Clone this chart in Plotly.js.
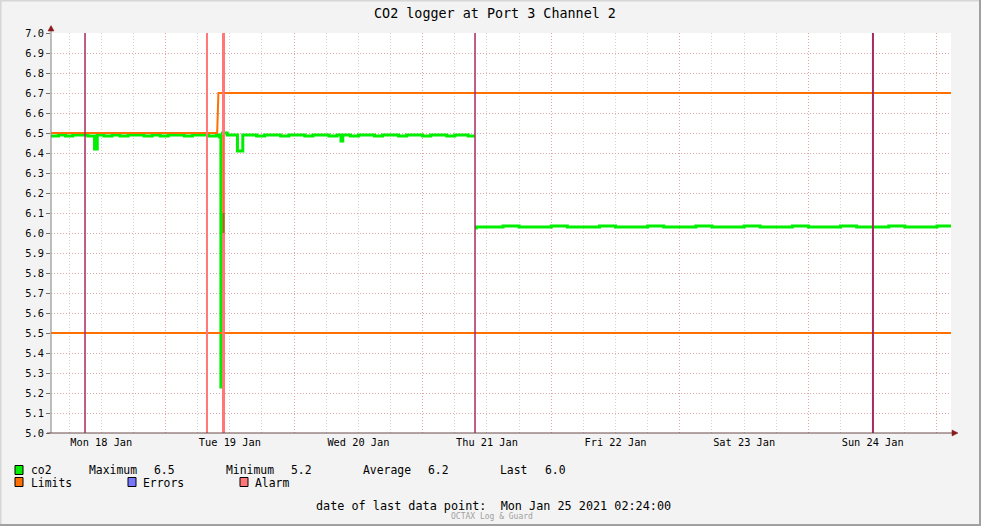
<!DOCTYPE html>
<html>
<head>
<meta charset="utf-8">
<script src="https://cdn.plot.ly/plotly-3.0.1.min.js"></script>
<style>html,body{margin:0;padding:0;background:#f3f3f3;}#chart{width:981px;height:526px;}</style>
</head>
<body>
<div id="chart"></div>
<script>
// ---------------- data ----------------
const xRange = ['2021-01-18 02:37', '2021-01-25 02:37'];

const dayTickVals = ['2021-01-18 12:00','2021-01-19 12:00','2021-01-20 12:00','2021-01-21 12:00','2021-01-22 12:00','2021-01-23 12:00','2021-01-24 12:00'];
const dayTickText = ['Mon 18 Jan','Tue 19 Jan','Wed 20 Jan','Thu 21 Jan','Fri 22 Jan','Sat 23 Jan','Sun 24 Jan'];

const co2Time = [
  '2021-01-18 02:37','2021-01-18 04:00','2021-01-18 05:20','2021-01-18 06:40','2021-01-18 08:00','2021-01-18 09:30',
  '2021-01-18 10:45','2021-01-18 11:15','2021-01-18 12:30','2021-01-18 14:00','2021-01-18 15:30','2021-01-18 17:00',
  '2021-01-18 18:30','2021-01-18 20:00','2021-01-18 21:30','2021-01-18 23:00','2021-01-19 00:30','2021-01-19 02:00',
  '2021-01-19 03:30','2021-01-19 05:00','2021-01-19 06:30','2021-01-19 08:00','2021-01-19 09:30','2021-01-19 10:05',
  '2021-01-19 10:20','2021-01-19 10:38','2021-01-19 11:30','2021-01-19 12:30','2021-01-19 13:25','2021-01-19 14:25',
  '2021-01-19 15:30','2021-01-19 17:00','2021-01-19 18:30','2021-01-19 20:00','2021-01-19 21:30','2021-01-19 23:00',
  '2021-01-20 00:30','2021-01-20 02:00','2021-01-20 03:30','2021-01-20 05:00','2021-01-20 06:30','2021-01-20 08:00',
  '2021-01-20 08:45','2021-01-20 09:05','2021-01-20 10:30','2021-01-20 12:00','2021-01-20 13:30','2021-01-20 15:00',
  '2021-01-20 16:30','2021-01-20 18:00','2021-01-20 19:30','2021-01-20 21:00','2021-01-20 22:30','2021-01-21 00:00',
  '2021-01-21 01:30','2021-01-21 03:00','2021-01-21 04:30','2021-01-21 06:00','2021-01-21 07:30','2021-01-21 08:30',
  '2021-01-21 09:44','2021-01-21 09:45',
  '2021-01-21 09:46','2021-01-21 10:00','2021-01-21 12:00','2021-01-21 15:00','2021-01-21 18:00','2021-01-21 21:00',
  '2021-01-22 00:00','2021-01-22 03:00','2021-01-22 06:00','2021-01-22 09:00','2021-01-22 12:00','2021-01-22 15:00',
  '2021-01-22 18:00','2021-01-22 21:00','2021-01-23 00:00','2021-01-23 03:00','2021-01-23 06:00','2021-01-23 09:00',
  '2021-01-23 12:00','2021-01-23 15:00','2021-01-23 18:00','2021-01-23 21:00','2021-01-24 00:00','2021-01-24 03:00',
  '2021-01-24 06:00','2021-01-24 09:00','2021-01-24 12:00','2021-01-24 15:00','2021-01-24 18:00','2021-01-24 21:00',
  '2021-01-25 00:00','2021-01-25 02:37'
];
const co2Value = [
  6.485,6.49,6.485,6.49,6.49,6.485,
  6.42,6.49,6.485,6.49,6.485,6.49,
  6.49,6.485,6.49,6.485,6.49,6.49,
  6.485,6.49,6.49,6.485,6.49,6.48,
  5.23,6.5,6.49,6.49,6.41,6.49,
  6.49,6.485,6.49,6.49,6.485,6.49,
  6.49,6.485,6.49,6.49,6.485,6.49,
  6.46,6.49,6.485,6.49,6.49,6.485,
  6.49,6.49,6.485,6.49,6.49,6.485,
  6.49,6.49,6.485,6.49,6.49,6.485,
  6.485,null,
  6.025,6.03,6.03,6.035,6.03,6.03,
  6.035,6.03,6.03,6.035,6.03,6.03,
  6.035,6.03,6.03,6.035,6.03,6.03,
  6.035,6.03,6.03,6.035,6.03,6.03,
  6.035,6.03,6.03,6.035,6.03,6.03,
  6.035,6.03
];

const upperLimitTime = ['2021-01-18 02:37','2021-01-19 09:38','2021-01-19 09:52','2021-01-25 02:37'];
const upperLimitValue = [6.5, 6.5, 6.7, 6.7];
const lowerLimitTime = ['2021-01-18 02:37','2021-01-25 02:37'];
const lowerLimitValue = [5.5, 5.5];

const spikeTime = ['2021-01-19 10:49','2021-01-19 10:49'];
const spikeValue = [6.49, 6.1];
const spikeLowTime = ['2021-01-19 10:49','2021-01-19 10:49'];
const spikeLowValue = [6.1, 6.0];

const alarmTime = ['2021-01-19 07:44','2021-01-19 10:49'];
const eventTime = ['2021-01-18 08:58','2021-01-21 09:46','2021-01-24 12:03'];

const legendStats = {max: '6.5', min: '5.2', avg: '6.2', last: '6.0'};
const lastDataPoint = 'Mon Jan 25 2021 02:24:00';

// ---------------- layout helpers ----------------
const PL = 51, PR = 951, PT = 33, PB = 433;
const px = x => (x - PL) / (PR - PL);
const py = y => (PB - y) / (PB - PT);
const FONT = 'DejaVu Sans Mono, monospace';

const traces = [];
traces.push({x: co2Time, y: co2Value, type: 'scatter', mode: 'lines', connectgaps: false, line: {color: '#00ee00', width: 3, shape: 'hv'}, xaxis: 'x', yaxis: 'y', hoverinfo: 'skip'});
traces.push({x: upperLimitTime, y: upperLimitValue, type: 'scatter', mode: 'lines', line: {color: '#ff7000', width: 2}, xaxis: 'x', yaxis: 'y', hoverinfo: 'skip'});
traces.push({x: lowerLimitTime, y: lowerLimitValue, type: 'scatter', mode: 'lines', line: {color: '#ff7000', width: 2}, xaxis: 'x', yaxis: 'y', hoverinfo: 'skip'});

const eventWidths = [1.5, 1.5, 2];
eventTime.forEach((t, i) => {
  traces.push({x: [t, t], y: [5, 7], type: 'scatter', mode: 'lines', line: {color: '#a82a60', width: eventWidths[i]}, xaxis: 'x2', yaxis: 'y', hoverinfo: 'skip'});
});
const alarmWidths = [2, 3];
alarmTime.forEach((t, i) => {
  traces.push({x: [t, t], y: [5, 7], type: 'scatter', mode: 'lines', line: {color: '#ff7777', width: alarmWidths[i]}, xaxis: 'x2', yaxis: 'y', hoverinfo: 'skip'});
});
traces.push({x: spikeTime, y: spikeValue, type: 'scatter', mode: 'lines', line: {color: '#ff7000', width: 1}, xaxis: 'x2', yaxis: 'y', hoverinfo: 'skip'});
traces.push({x: spikeLowTime, y: spikeLowValue, type: 'scatter', mode: 'lines', line: {color: '#808000', width: 2}, xaxis: 'x2', yaxis: 'y', hoverinfo: 'skip'});

const annotations = [];
function txt(x, y, s, size, color) {
  annotations.push({xref: 'paper', yref: 'paper', x: px(x), y: py(y), text: s, showarrow: false,
    xanchor: 'left', yanchor: 'middle', borderpad: 0,
    font: {family: FONT, size: size || 11.4, color: color || '#000'}});
}
const ROW1 = 469.5, ROW2 = 482.5;
txt(30, ROW1, 'co2');
txt(88, ROW1, 'Maximum');
txt(153, ROW1, legendStats.max);
txt(225, ROW1, 'Minimum');
txt(290, ROW1, legendStats.min);
txt(362, ROW1, 'Average');
txt(427, ROW1, legendStats.avg);
txt(499, ROW1, 'Last');
txt(544, ROW1, legendStats.last);
txt(30, ROW2, 'Limits');
txt(142, ROW2, 'Errors');
txt(254, ROW2, 'Alarm');
txt(315, 506, 'date of last data point:  ' + lastDataPoint, 11.8);
txt(450, 516, 'OCTAX Log &amp; Guard', 8, '#a0a0a0');

const shapes = [];
function swatch(x, y, color) {
  shapes.push({type: 'rect', xref: 'paper', yref: 'paper', x0: px(x), x1: px(x + 8), y0: py(y + 4.5), y1: py(y - 4.5),
    fillcolor: color, line: {color: '#000', width: 1}, layer: 'above'});
}
swatch(15, 470, '#00ee00');
swatch(15, 482, '#ff7000');
swatch(128, 482, '#7777ff');
swatch(240, 482, '#ff7777');

// axis lines
shapes.push({type: 'line', xref: 'paper', yref: 'paper', x0: px(51), x1: px(51), y0: py(433), y1: py(30), line: {color: '#808080', width: 1}, layer: 'above'});
shapes.push({type: 'line', xref: 'paper', yref: 'paper', x0: px(47), x1: px(953), y0: py(433), y1: py(433), line: {color: '#6a4a4a', width: 1}, layer: 'above'});
// arrows
shapes.push({type: 'path', xref: 'paper', yref: 'paper', path: `M ${px(48)} ${py(31)} L ${px(54)} ${py(31)} L ${px(51)} ${py(25.5)} Z`, fillcolor: '#8b1a1a', line: {color: '#8b1a1a', width: 0.5}, layer: 'above'});
shapes.push({type: 'path', xref: 'paper', yref: 'paper', path: `M ${px(952)} ${py(430)} L ${px(952)} ${py(436)} L ${px(958)} ${py(433)} Z`, fillcolor: '#8b1a1a', line: {color: '#8b1a1a', width: 0.5}, layer: 'above'});
// frame border
shapes.push({type: 'line', xref: 'paper', yref: 'paper', x0: px(0.5), x1: px(0.5), y0: py(0), y1: py(526), line: {color: '#d6d6d6', width: 2}, layer: 'below'});
shapes.push({type: 'line', xref: 'paper', yref: 'paper', x0: px(0), x1: px(981), y0: py(0.5), y1: py(0.5), line: {color: '#d6d6d6', width: 2}, layer: 'below'});
shapes.push({type: 'line', xref: 'paper', yref: 'paper', x0: px(980), x1: px(980), y0: py(0), y1: py(526), line: {color: '#a0a0a0', width: 2}, layer: 'below'});
shapes.push({type: 'line', xref: 'paper', yref: 'paper', x0: px(0), x1: px(981), y0: py(525), y1: py(525), line: {color: '#a0a0a0', width: 2}, layer: 'below'});

const layout = {
  width: 981, height: 526,
  margin: {l: PL, r: 981 - PR, t: PT, b: 526 - PB, pad: 0},
  paper_bgcolor: '#f3f3f3', plot_bgcolor: '#ffffff',
  showlegend: false,
  title: {text: 'CO2 logger at Port 3 Channel 2', xref: 'container', yref: 'container', x: 495 / 981, y: 1 - 13 / 526,
    xanchor: 'center', yanchor: 'middle', font: {family: FONT, size: 13.4, color: '#000'}},
  xaxis: {type: 'date', range: xRange, tickmode: 'linear', tick0: '2021-01-18 00:00', dtick: 86400000,
    showticklabels: false, ticks: '', showline: false, zeroline: false,
    showgrid: true, gridcolor: '#eba0a0', gridwidth: 1, griddash: '1px,2px',
    minor: {tick0: '2021-01-18 00:00', dtick: 21600000, showgrid: true, gridcolor: '#d2d2d2', gridwidth: 1, griddash: '1px,2px', ticks: ''},
    fixedrange: true},
  xaxis2: {type: 'date', range: xRange, overlaying: 'x', anchor: 'y', side: 'bottom',
    tickmode: 'array', tickvals: dayTickVals, ticktext: dayTickText, ticks: '', showgrid: false, showline: false, zeroline: false,
    tickfont: {family: FONT, size: 10.3, color: '#000'}, ticklabelstandoff: 2, fixedrange: true},
  yaxis: {range: [5, 7], tickmode: 'linear', tick0: 5, dtick: 0.1, tickformat: '.1f',
    ticks: 'outside', ticklen: 4, tickcolor: '#707070', showline: false, zeroline: false,
    showgrid: true, gridcolor: '#dba8a8', gridwidth: 1, griddash: '1px,2px',
    tickfont: {family: FONT, size: 10.3, color: '#000'}, fixedrange: true},
  annotations: annotations,
  shapes: shapes
};

Plotly.newPlot('chart', traces, layout, {displayModeBar: false, staticPlot: true});
</script>
</body>
</html>
